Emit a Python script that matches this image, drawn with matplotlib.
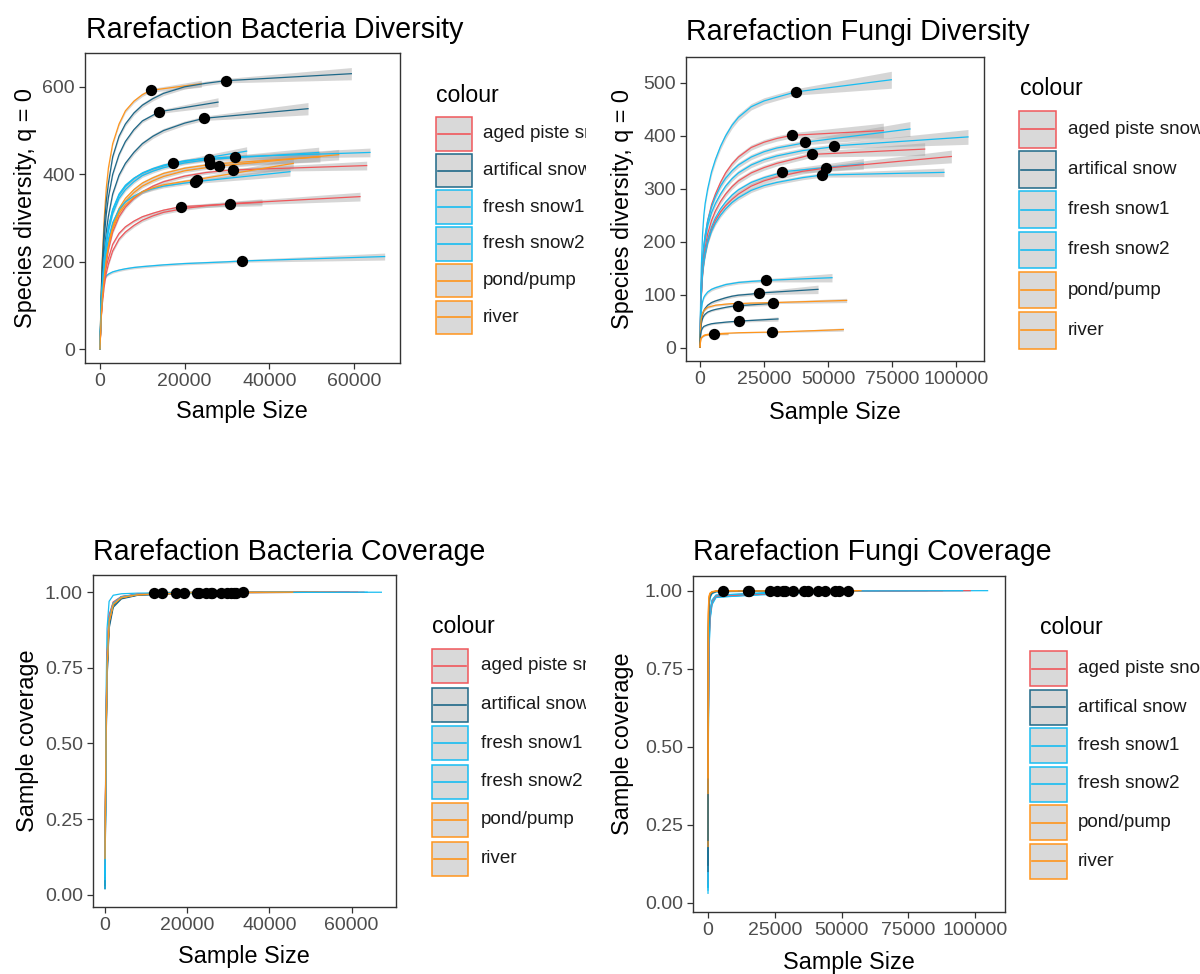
import matplotlib.pyplot as plt
from matplotlib.patches import Rectangle

plt.rcParams['font.family'] = ['Liberation Sans', 'DejaVu Sans']

# groups / colours
group_names = ['aged piste snow', 'artifical snow', 'fresh snow1', 'fresh snow2', 'pond/pump', 'river']
group_colors = ['#F0575B', '#1E6888', '#17BDF2', '#17BDF2', '#FF951C', '#FF951C']
col = dict(zip(group_names, group_colors))

# ---- bacteria samples ----
bac_group = ['pond/pump', 'artifical snow', 'artifical snow', 'artifical snow', 'fresh snow1',
             'aged piste snow', 'aged piste snow', 'fresh snow1', 'fresh snow2', 'river',
             'pond/pump', 'aged piste snow', 'fresh snow2', 'fresh snow1', 'river']
bac_obs_x = [11970, 29690, 13940, 24570, 33620, 19130, 30710, 17320, 25830, 25980, 28190, 31500, 31890, 22440, 22830]
bac_obs_y = [592, 614, 543, 528, 202, 326, 333, 425, 434, 423, 419, 410, 440, 383, 388]
bac_end_x = [23940, 59380, 27880, 49140, 67240, 38260, 61420, 34640, 51660, 51960, 56380, 63000, 63780, 44880, 45660]
bac_end_y = [607, 630, 565, 550, 212, 336, 349, 453, 450, 440, 445, 420, 450, 406, 425]
bac_ci_obs = [4, 5, 4, 5, 3, 3, 4, 4, 4, 4, 4, 4, 4, 4, 4]
bac_ci_end = [8, 14, 10, 14, 8, 8, 10, 10, 12, 12, 12, 10, 10, 10, 12]
bac_grid = [1, 250, 500, 1000, 1500, 2000, 3000, 4500, 6000, 8000, 10000, 12500, 15000, 20000, 25000, 30000]
bac_rare = [
    [1, 120, 200, 300, 370, 415, 470, 515, 545, 567, 582],
    [1, 110, 190, 280, 340, 380, 440, 487, 515, 540, 558, 573, 585, 600, 608],
    [1, 100, 170, 255, 310, 348, 400, 445, 475, 502, 522, 535],
    [1, 90, 150, 220, 270, 305, 355, 398, 425, 450, 470, 487, 500, 517],
    [1, 110, 140, 158, 168, 172, 177, 181, 184, 187, 189, 191, 193, 196, 198, 200],
    [1, 70, 110, 160, 190, 208, 240, 265, 280, 293, 303, 311, 318],
    [1, 65, 100, 145, 175, 195, 225, 252, 268, 283, 295, 305, 313, 322, 328, 332],
    [1, 85, 140, 205, 250, 280, 320, 355, 375, 391, 402, 412, 419],
    [1, 80, 135, 198, 240, 270, 310, 345, 365, 383, 397, 407, 415, 426, 433],
    [1, 72, 120, 178, 215, 245, 285, 322, 345, 365, 380, 392, 402, 414, 421],
    [1, 70, 115, 172, 210, 240, 280, 315, 338, 358, 373, 385, 395, 408, 415],
    [1, 66, 110, 163, 200, 228, 268, 303, 325, 345, 360, 373, 383, 396, 404, 409],
    [1, 85, 140, 205, 250, 278, 318, 352, 372, 390, 403, 413, 421, 431, 436, 439],
    [1, 75, 125, 185, 225, 253, 290, 320, 337, 350, 360, 367, 373, 380],
    [1, 66, 110, 165, 205, 235, 275, 310, 330, 347, 360, 369, 376, 384],
]
bac_cov_grid = [1, 250, 500, 1000, 2000, 4000, 8000]
bac_cov = [
    [0.03, 0.50, 0.74, 0.90, 0.960, 0.982, 0.992],
    [0.02, 0.48, 0.72, 0.89, 0.955, 0.980, 0.991],
    [0.03, 0.50, 0.74, 0.90, 0.958, 0.981, 0.991],
    [0.02, 0.47, 0.71, 0.88, 0.950, 0.978, 0.990],
    [0.02, 0.65, 0.88, 0.97, 0.990, 0.995, 0.997],
    [0.10, 0.55, 0.78, 0.92, 0.965, 0.985, 0.993],
    [0.08, 0.56, 0.79, 0.925, 0.968, 0.986, 0.994],
    [0.05, 0.52, 0.76, 0.91, 0.962, 0.983, 0.992],
    [0.05, 0.52, 0.76, 0.91, 0.962, 0.984, 0.993],
    [0.15, 0.50, 0.75, 0.905, 0.960, 0.983, 0.992],
    [0.12, 0.50, 0.75, 0.90, 0.960, 0.982, 0.992],
    [0.10, 0.53, 0.77, 0.915, 0.964, 0.985, 0.993],
    [0.06, 0.52, 0.76, 0.91, 0.962, 0.984, 0.993],
    [0.07, 0.53, 0.77, 0.915, 0.964, 0.985, 0.993],
    [0.12, 0.51, 0.75, 0.905, 0.960, 0.983, 0.992],
]
bac_cov_obs = [0.999, 0.999, 0.999, 0.999, 0.9995, 0.999, 0.999, 0.999, 0.999, 0.999, 0.999, 0.999, 0.999, 0.999, 0.999]
bac_cov_end = [1.0, 1.0, 1.0, 1.0, 1.0, 1.0, 1.0, 1.0, 1.0, 1.0, 1.0, 1.0, 1.0, 1.0, 1.0]

# ---- fungi samples ----
fun_group = ['fresh snow1', 'aged piste snow', 'fresh snow2', 'fresh snow2', 'aged piste snow',
             'fresh snow1', 'aged piste snow', 'fresh snow1', 'fresh snow2', 'artifical snow',
             'artifical snow', 'river', 'artifical snow', 'pond/pump', 'river']
fun_obs_x = [37370, 35800, 41010, 52340, 43880, 31900, 49090, 47650, 25780, 23050, 14970, 28640, 15230, 27990, 5470]
fun_obs_y = [483, 401, 388, 381, 365, 332, 339, 326, 127, 103, 79, 85, 50, 29, 25]
fun_end_x = [74740, 71600, 82020, 104680, 87760, 63800, 98180, 95300, 51560, 46100, 29940, 57280, 30460, 55980, 10940]
fun_end_y = [506, 410, 413, 398, 375, 347, 361, 331, 132, 110, 84, 89, 54, 34, 26]
fun_ci_obs = [6, 5, 5, 5, 5, 4, 5, 4, 3, 3, 2, 2, 2, 1, 1]
fun_ci_end = [16, 14, 14, 14, 12, 10, 12, 8, 8, 8, 4, 4, 4, 3, 2]
fun_grid = [1, 250, 500, 1000, 1500, 2000, 3000, 4500, 6000, 8000, 10000, 12500, 15000, 20000,
            25000, 30000, 40000, 50000]
fun_rare = [
    [1, 95, 150, 215, 250, 272, 300, 332, 355, 380, 400, 420, 435, 455, 466, 473],
    [1, 70, 110, 160, 190, 210, 240, 270, 290, 312, 330, 347, 360, 378, 388, 395],
    [1, 75, 120, 168, 195, 213, 240, 266, 285, 305, 320, 334, 345, 360, 370, 377, 386],
    [1, 72, 115, 160, 185, 203, 230, 255, 272, 290, 305, 319, 330, 345, 355, 362, 372, 378],
    [1, 62, 100, 145, 170, 188, 215, 240, 258, 276, 290, 304, 315, 330, 340, 348, 360],
    [1, 62, 100, 143, 165, 181, 205, 228, 245, 262, 275, 288, 298, 312, 321, 328],
    [1, 60, 95, 137, 160, 176, 200, 223, 240, 256, 268, 280, 290, 305, 315, 322, 333],
    [1, 62, 100, 140, 160, 175, 198, 220, 235, 250, 262, 274, 283, 297, 306, 312, 321],
    [1, 50, 70, 87, 95, 99, 105, 110, 113, 116, 119, 121, 123, 125, 126.5],
    [1, 35, 50, 63, 70, 74, 80, 85, 88, 91, 94, 97, 99, 101],
    [1, 33, 45, 55, 60, 63, 67, 70, 72, 74, 76, 78],
    [1, 42, 55, 65, 70, 72, 76, 78, 80, 81, 82, 83, 83, 84, 84.5],
    [1, 25, 32, 37, 40, 41, 43, 45, 46, 47, 48, 49, 49.5],
    [1, 14, 18, 21, 23, 24, 25, 25.5, 26, 26.5, 27, 27.5, 28, 28.5, 29],
    [1, 14, 18, 20.5, 22, 23, 24, 24.5],
]
fun_cov_grid = [1, 100, 300, 700, 1500, 3000]
fun_cov = [
    [0.03, 0.45, 0.75, 0.90, 0.955, 0.978],
    [0.05, 0.55, 0.80, 0.92, 0.965, 0.983],
    [0.05, 0.52, 0.78, 0.91, 0.960, 0.980],
    [0.04, 0.50, 0.77, 0.91, 0.960, 0.980],
    [0.06, 0.55, 0.80, 0.92, 0.965, 0.983],
    [0.05, 0.56, 0.81, 0.925, 0.967, 0.985],
    [0.16, 0.56, 0.81, 0.925, 0.967, 0.985],
    [0.05, 0.58, 0.82, 0.93, 0.970, 0.986],
    [0.14, 0.80, 0.93, 0.975, 0.990, 0.996],
    [0.10, 0.82, 0.94, 0.98, 0.992, 0.997],
    [0.12, 0.85, 0.95, 0.985, 0.994, 0.998],
    [0.18, 0.88, 0.96, 0.988, 0.995, 0.998],
    [0.20, 0.88, 0.96, 0.988, 0.995, 0.998],
    [0.35, 0.92, 0.975, 0.99, 0.996, 0.999],
    [0.40, 0.93, 0.98, 0.992, 0.997, 0.999],
]
fun_cov_obs = [0.999, 0.999, 0.999, 0.999, 0.999, 0.999, 0.999, 0.999, 0.9995, 0.9995, 0.9995, 0.9995, 0.9995, 0.9995, 0.9995]
fun_cov_end = [1.0, 1.0, 1.0, 1.0, 1.0, 1.0, 1.0, 1.0, 1.0, 1.0, 1.0, 1.0, 1.0, 1.0, 1.0]

W, H = 1200, 974
fig = plt.figure(figsize=(W / 100, H / 100), dpi=100)


def px_axes(l, t, r, b):
    return fig.add_axes([l / W, 1 - b / H, (r - l) / W, (b - t) / H])


def draw_curves(ax, grid, rare, ox, oy, ex, ey, groups, ci_obs=None, ci_end=None):
    curves = []
    for i in range(len(ox)):
        k = len(rare[i])
        curves.append((list(grid[:k]) + [ox[i], ex[i]], list(rare[i]) + [oy[i], ey[i]]))
    if ci_obs is not None:
        for i, (xs, ys) in enumerate(curves):
            hw = [0] + [ci_obs[i]] * (len(xs) - 2) + [ci_end[i]]
            ax.fill_between(xs, [y - h for y, h in zip(ys, hw)], [y + h for y, h in zip(ys, hw)],
                            color='#9a9a9a', alpha=0.4, lw=0, zorder=1)
    for i, (xs, ys) in enumerate(curves):
        ax.plot(xs, ys, color=col[groups[i]], lw=0.9, zorder=2)
    ax.scatter(ox, oy, s=66, color='black', lw=0, zorder=3)


def style(ax, xlim, ylim, xticks, yticks, ylabels):
    ax.set_xlim(xlim)
    ax.set_ylim(ylim)
    ax.set_xticks(xticks)
    ax.set_xticklabels([str(t) for t in xticks])
    ax.set_yticks(yticks)
    ax.set_yticklabels(ylabels)
    for s in ax.spines.values():
        s.set_color('#333333')
        s.set_linewidth(1.0)
    ax.tick_params(length=4.3, width=0.9, color='#333333', labelcolor='#4D4D4D', labelsize=14, pad=3)


def ftext(x, y, s, **kw):
    fig.text(x / W, 1 - y / H, s, **kw)


def legend(l, t, r, b, title_x, title_y, box_x, box_top, step, bw, bh, label_x):
    lax = px_axes(l, t, r, b)
    lax.set_xlim(l, r)
    lax.set_ylim(b, t)
    lax.axis('off')
    lax.text(title_x, title_y, 'colour', fontsize=16.6, va='baseline', ha='left', clip_on=True)
    for i, name in enumerate(group_names):
        c = col[name]
        y0 = box_top + i * step
        lax.add_patch(Rectangle((box_x, y0), bw, bh, facecolor='#D9D9D9', edgecolor=c, lw=1.1))
        lax.plot([box_x + 2, box_x + bw - 2], [y0 + bh / 2] * 2, color=c, lw=1.2)
        lax.text(label_x, y0 + bh / 2, name, fontsize=13.6, va='center', ha='left',
                 color='#1A1A1A', clip_on=True)


# panel 1: bacteria diversity
ax1 = px_axes(85, 53, 400, 363)
draw_curves(ax1, bac_grid, bac_rare, bac_obs_x, bac_obs_y, bac_end_x, bac_end_y, bac_group,
            bac_ci_obs, bac_ci_end)
style(ax1, (-3540, 70870), (-31.3, 677.3), [0, 20000, 40000, 60000], [0, 200, 400, 600],
      ['0', '200', '400', '600'])

# panel 2: fungi diversity
ax2 = px_axes(686, 57, 984, 361)
draw_curves(ax2, fun_grid, fun_rare, fun_obs_x, fun_obs_y, fun_end_x, fun_end_y, fun_group,
            fun_ci_obs, fun_ci_end)
style(ax2, (-5470, 110940), (-25.4, 549), [0, 25000, 50000, 75000, 100000],
      [0, 100, 200, 300, 400, 500], ['0', '100', '200', '300', '400', '500'])

# panel 3: bacteria coverage
ax3 = px_axes(93, 575, 396, 907)
draw_curves(ax3, bac_cov_grid, bac_cov, bac_obs_x, bac_cov_obs, bac_end_x, bac_cov_end, bac_group)
style(ax3, (-2920, 70800), (-0.041, 1.057), [0, 20000, 40000, 60000],
      [0, 0.25, 0.5, 0.75, 1.0], ['0.00', '0.25', '0.50', '0.75', '1.00'])

# panel 4: fungi coverage
ax4 = px_axes(693, 576, 1005, 912)
draw_curves(ax4, fun_cov_grid, fun_cov, fun_obs_x, fun_cov_obs, fun_end_x, fun_cov_end, fun_group)
style(ax4, (-5620, 111200), (-0.030, 1.047), [0, 25000, 50000, 75000, 100000],
      [0, 0.25, 0.5, 0.75, 1.0], ['0.00', '0.25', '0.50', '0.75', '1.00'])

# titles and axis labels
ftext(86, 38, 'Rarefaction Bacteria Diversity', fontsize=20.6, va='baseline', ha='left')
ftext(686, 40, 'Rarefaction Fungi Diversity', fontsize=20.6, va='baseline', ha='left')
ftext(93, 560, 'Rarefaction Bacteria Coverage', fontsize=20.6, va='baseline', ha='left')
ftext(693, 560, 'Rarefaction Fungi Coverage', fontsize=20.6, va='baseline', ha='left')

ftext(26, 208, 'Species diversity, q = 0', fontsize=16.8, rotation=90, ha='center', va='center')
ftext(623, 209, 'Species diversity, q = 0', fontsize=16.8, rotation=90, ha='center', va='center')
ftext(28, 741, 'Sample coverage', fontsize=16.8, rotation=90, ha='center', va='center')
ftext(623, 744, 'Sample coverage', fontsize=16.8, rotation=90, ha='center', va='center')

ftext(242, 412, 'Sample Size', fontsize=16.8, ha='center', va='center')
ftext(835, 413, 'Sample Size', fontsize=16.8, ha='center', va='center')
ftext(244, 956, 'Sample Size', fontsize=16.8, ha='center', va='center')
ftext(849, 962, 'Sample Size', fontsize=16.8, ha='center', va='center')

# legends (clipped like the original)
legend(420, 60, 586, 345, 436, 102, 436, 117, 36.7, 36, 33.7, 483)
legend(1005, 55, 1200, 355, 1020, 95, 1019, 111, 40.2, 36.6, 36.6, 1068)
legend(420, 590, 586, 880, 432, 633, 432, 649, 38.5, 36, 34, 481)
legend(1015, 590, 1200, 880, 1040, 634, 1030, 651, 38.5, 37, 35, 1078)

fig.savefig('out.png', dpi=100)
